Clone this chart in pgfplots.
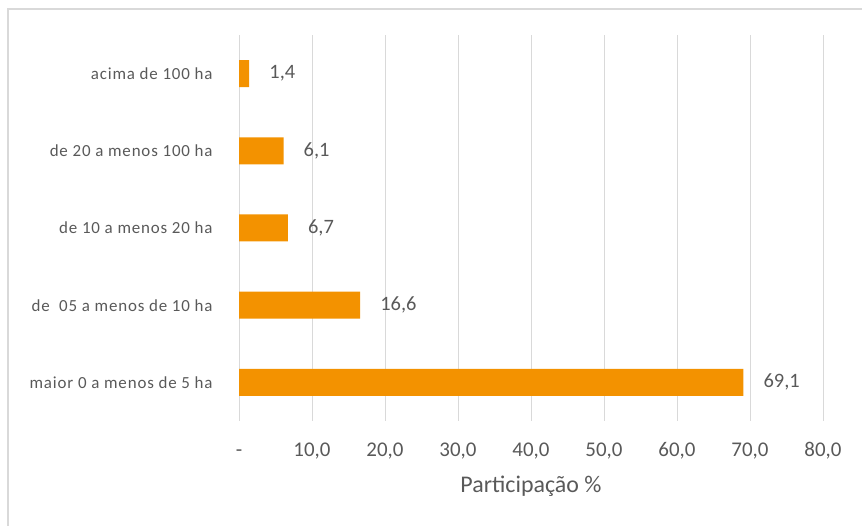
\documentclass[border=0pt]{standalone}
\usepackage{fontspec}
\setmainfont{Carlito}
\newfontfamily\catfont[LetterSpace=5]{Carlito}
\usepackage{pgfplots}
\pgfplotsset{compat=1.18}
\definecolor{barorange}{HTML}{F39200}
\definecolor{txtgray}{HTML}{595959}
\definecolor{gridgray}{HTML}{D9D9D9}
\begin{document}
\begin{tikzpicture}[x=1bp,y=1bp]
\path[use as bounding box] (0,0) rectangle (862,526);
\draw[gridgray, line width=1.5bp] (8,0) -- (8,517) -- (862,517);
\begin{axis}[
  at={(239bp,105bp)}, anchor=south west,
  scale only axis, width=584bp, height=386bp,
  xbar, bar width=27bp,
  xmin=0, xmax=80, ymin=-0.5, ymax=4.5,
  xtick={0,10,...,80},
  xticklabels={-,{10,0},{20,0},{30,0},{40,0},{50,0},{60,0},{70,0},{80,0}},
  ytick={0,1,2,3,4},
  yticklabels={maior 0 a menos de 5 ha, de\ \ 05 a menos de 10 ha, de 10 a menos 20 ha, de 20 a menos 100 ha, acima de 100 ha},
  axis line style={draw=none},
  tick style={draw=none},
  xmajorgrids, major grid style={gridgray, line width=1bp},
  yticklabel style={anchor=east, inner sep=0pt, xshift=-22bp, font=\catfont\fontsize{17}{20}\selectfont, text=txtgray},
  xticklabel style={anchor=base, inner sep=0pt, yshift=-36bp, font=\fontsize{21}{24}\selectfont, text=txtgray},
  xlabel={Participação \%},
  xlabel style={at={(axis description cs:0.5,0)}, anchor=base, inner sep=0pt, yshift=-72bp, font=\fontsize{24}{28}\selectfont, text=txtgray},
  nodes near coords={\pgfmathprintnumber[use comma,fixed,fixed zerofill,precision=1,assume math mode=true]{\pgfplotspointmeta}},
  point meta=x,
  nodes near coords style={anchor=west, inner sep=0pt, xshift=20bp, font=\fontsize{20.5}{24}\selectfont, text=txtgray},
]
\addplot[fill=barorange, draw=none] coordinates {(69.1,0) (16.6,1) (6.7,2) (6.1,3) (1.4,4)};
\end{axis}
\end{tikzpicture}
\end{document}
